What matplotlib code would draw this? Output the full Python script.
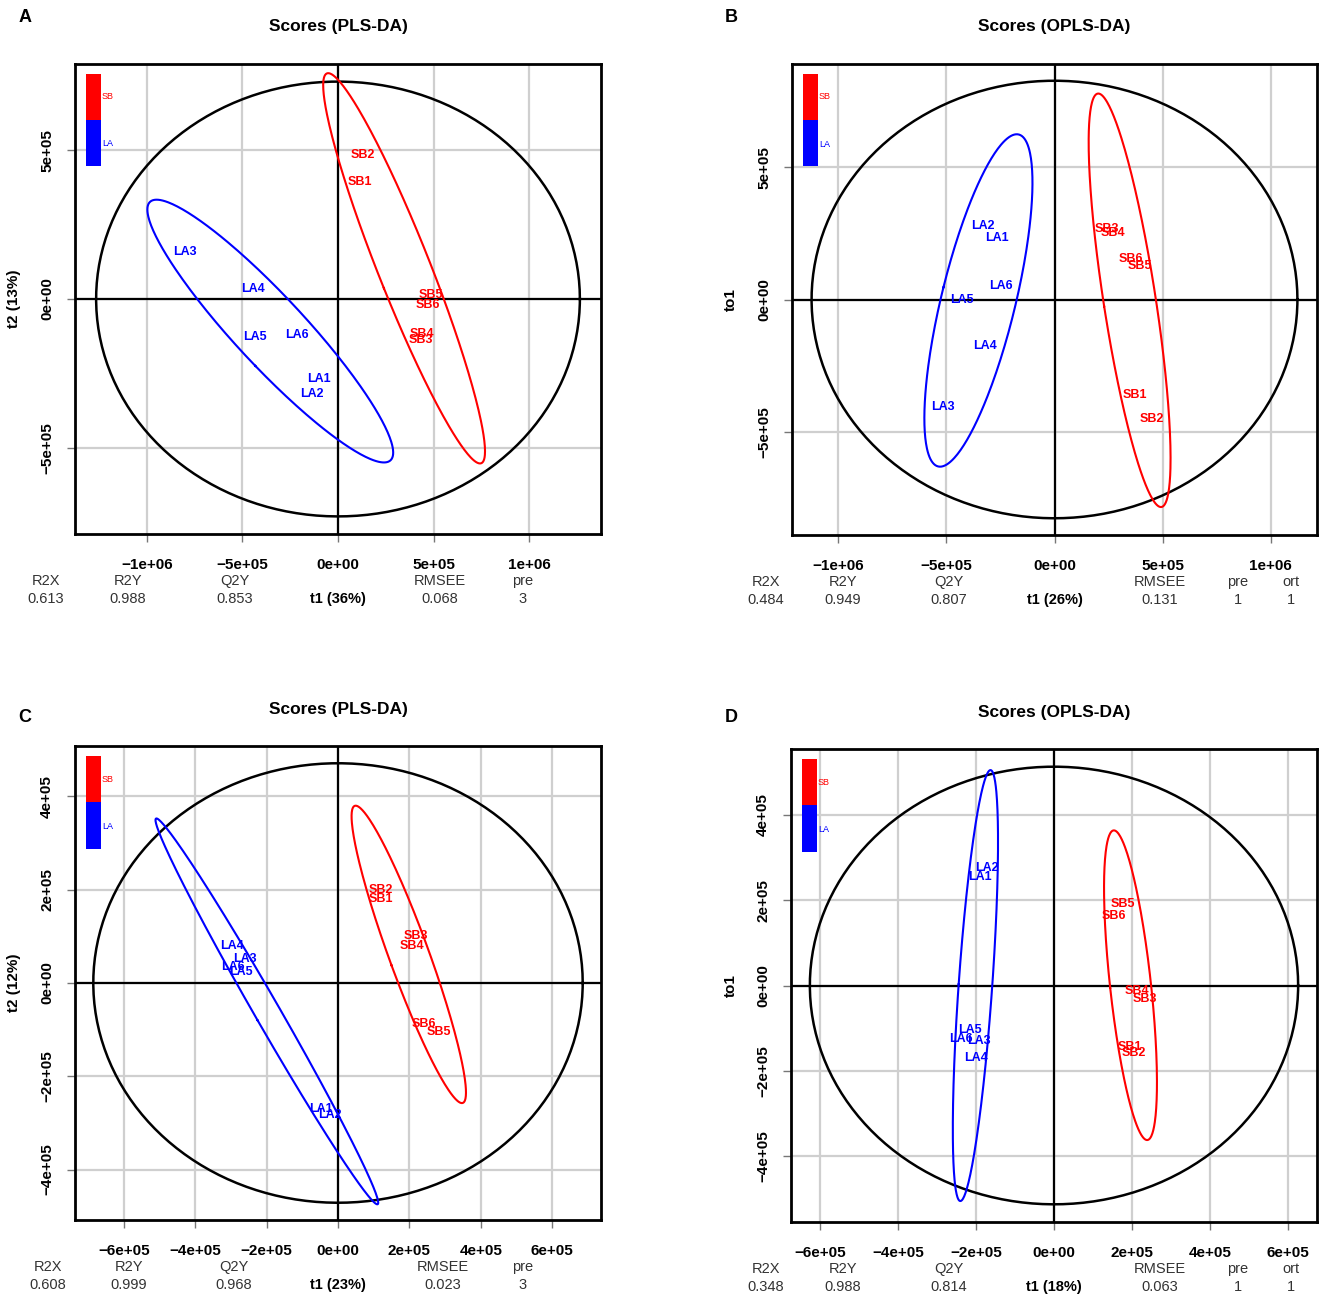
import numpy as np
import matplotlib
matplotlib.use("Agg")
import matplotlib.pyplot as plt
from matplotlib.patches import Rectangle

plt.rcParams['font.family'] = ['Liberation Sans', 'DejaVu Sans']

W, H = 1325, 1300

# ---------------- data ----------------
sample_labels = ["SB1", "SB2", "SB3", "SB4", "SB5", "SB6",
                 "LA1", "LA2", "LA3", "LA4", "LA5", "LA6"]
sample_groups = ["SB"] * 6 + ["LA"] * 6
group_colors = {"SB": "red", "LA": "blue"}

# Panel A: PLS-DA scores
a_t1 = [117e3, 131e3, 432e3, 441e3, 486e3, 468e3,
        -99e3, -135e3, -800e3, -444e3, -432e3, -216e3]
a_t2 = [393e3, 485e3, -139e3, -116e3, 15e3, -19e3,
        -268e3, -321e3, 158e3, 35e3, -129e3, -122e3]
# Panel B: OPLS-DA scores
b_t1 = [371e3, 450e3, 243e3, 272e3, 395e3, 355e3,
        -265e3, -332e3, -516e3, -324e3, -428e3, -248e3]
b_to1 = [-362e3, -453e3, 267e3, 250e3, 127e3, 153e3,
         231e3, 279e3, -406e3, -175e3, -3e3, 52e3]
# Panel C: PLS-DA scores
c_t1 = [121e3, 121e3, 217e3, 206e3, 283e3, 242e3,
        -48e3, -24e3, -261e3, -297e3, -271e3, -295e3]
c_t2 = [181e3, 199e3, 100e3, 80e3, -105e3, -87e3,
        -271e3, -284e3, 52e3, 80e3, 24e3, 34e3]
# Panel D: OPLS-DA scores
d_t1 = [194e3, 206e3, 233e3, 213e3, 178e3, 154e3,
        -189e3, -172e3, -192e3, -201e3, -216e3, -240e3]
d_to1 = [-145e3, -159e3, -31e3, -14e3, 191e3, 162e3,
         255e3, 275e3, -131e3, -170e3, -104e3, -126e3]

titles = ["Scores (PLS-DA)", "Scores (OPLS-DA)", "Scores (PLS-DA)", "Scores (OPLS-DA)"]
panel_letters = ["A", "B", "C", "D"]
x_labels = ["t1 (36%)", "t1 (26%)", "t1 (23%)", "t1 (18%)"]
y_labels = ["t2 (13%)", "to1", "t2 (12%)", "to1"]

metric_names_pls = ["R2X", "R2Y", "Q2Y", "RMSEE", "pre"]
metric_names_opls = ["R2X", "R2Y", "Q2Y", "RMSEE", "pre", "ort"]
a_metrics = ["0.613", "0.988", "0.853", "0.068", "3"]
b_metrics = ["0.484", "0.949", "0.807", "0.131", "1", "1"]
c_metrics = ["0.608", "0.999", "0.968", "0.023", "3"]
d_metrics = ["0.348", "0.988", "0.814", "0.063", "1", "1"]

x_ticks_big = [-1e6, -5e5, 0, 5e5, 1e6]
y_ticks_big = [-5e5, 0, 5e5]
ticks_small = [-6e5, -4e5, -2e5, 0, 2e5, 4e5, 6e5]
y_ticks_small = [-4e5, -2e5, 0, 2e5, 4e5]

# ---------------- layout (pixels) ----------------
panels = [
    dict(x=a_t1, y=a_t2, box=(75, 64, 601, 534), xlim=1.376e6, ylim=7.9e5,
         xt=x_ticks_big, yt=y_ticks_big, metrics=a_metrics, names=metric_names_pls,
         mx=[46, 128, 235, 440, 523], letter_xy=(25, 18), title_y=27, ylab_x=14),
    dict(x=b_t1, y=b_to1, box=(792, 64, 1317, 535), xlim=1.215e6, ylim=8.9e5,
         xt=x_ticks_big, yt=y_ticks_big, metrics=b_metrics, names=metric_names_opls,
         mx=[766, 843, 949, 1160, 1238, 1291], letter_xy=(731, 18), title_y=27, ylab_x=731),
    dict(x=c_t1, y=c_t2, box=(75, 746, 601, 1220), xlim=7.37e5, ylim=5.08e5,
         xt=ticks_small, yt=y_ticks_small, metrics=c_metrics, names=metric_names_pls,
         mx=[48, 129, 234, 443, 523], letter_xy=(25, 718), title_y=710, ylab_x=14),
    dict(x=d_t1, y=d_to1, box=(791, 749, 1317, 1222), xlim=6.75e5, ylim=5.55e5,
         xt=ticks_small, yt=y_ticks_small, metrics=d_metrics, names=metric_names_opls,
         mx=[766, 843, 949, 1160, 1238, 1291], letter_xy=(731, 718), title_y=712, ylab_x=731),
]


def fmt(v):
    s = "%.0e" % v
    return s.replace("-", "\u2212")


def fx(px):
    return px / W


def fy(py):
    return 1 - py / H


theta = np.linspace(0, 2 * np.pi, 300)

fig = plt.figure(figsize=(W / 100, H / 100), dpi=100)

for i, p in enumerate(panels):
    l, t, r, b = p["box"]
    ax = fig.add_axes([fx(l), fy(b), (r - l) / W, (b - t) / H])
    xs = np.array(p["x"])
    ys = np.array(p["y"])
    ax.set_xlim(-p["xlim"], p["xlim"])
    ax.set_ylim(-p["ylim"], p["ylim"])
    ax.set_xticks(p["xt"])
    ax.set_yticks(p["yt"])
    ax.set_xticklabels([fmt(v) for v in p["xt"]], fontsize=11, fontweight="bold")
    ax.set_yticklabels([fmt(v) for v in p["yt"]], fontsize=11, fontweight="bold",
                       rotation=90, va="center")
    ax.tick_params(axis="x", direction="out", length=6, width=1, color="#777777", pad=11)
    ax.tick_params(axis="y", direction="out", length=6, width=1, color="#777777", pad=9)
    ax.grid(True, color="#cfcfcf", lw=1.6, zorder=0)
    ax.set_axisbelow(True)
    for sp in ax.spines.values():
        sp.set_linewidth(2)
        sp.set_color("black")
        sp.set_zorder(5)
    ax.axhline(0, color="black", lw=1.6, zorder=2)
    ax.axvline(0, color="black", lw=1.6, zorder=2)

    # Hotelling T2 ellipse over all samples
    n = len(xs)
    hot = 2 * (n - 1) * (n ** 2 - 1) / (n ** 2 * (n - 2)) * 4.1028  # qf(0.95, 2, 10)
    rx = np.sqrt(np.var(xs, ddof=1) * hot)
    ry = np.sqrt(np.var(ys, ddof=1) * hot)
    ax.plot(rx * np.cos(theta), ry * np.sin(theta), color="black", lw=1.8, zorder=3)

    # group ellipses (95% normal, chi-square 2 dof)
    chi = np.sqrt(5.991)
    groups_arr = np.array(sample_groups)
    for g in ["SB", "LA"]:
        m = groups_arr == g
        pts = np.vstack([xs[m], ys[m]])
        mean = pts.mean(axis=1)
        cov = np.cov(pts)
        vals, vecs = np.linalg.eigh(cov)
        circ = np.vstack([np.cos(theta), np.sin(theta)])
        ell = vecs @ (np.sqrt(vals)[:, None] * chi * circ) + mean[:, None]
        ax.plot(ell[0], ell[1], color=group_colors[g], lw=1.5, zorder=3)

    for lab, g, xv, yv in zip(sample_labels, sample_groups, xs, ys):
        ax.text(xv, yv, lab, color=group_colors[g], fontsize=9, fontweight="bold",
                ha="center", va="center", zorder=4)

    # colour legend bar
    ax.add_patch(Rectangle((0.021, 0.881), 0.029, 0.098, transform=ax.transAxes,
                           color="red", zorder=6, lw=0))
    ax.add_patch(Rectangle((0.021, 0.783), 0.029, 0.098, transform=ax.transAxes,
                           color="blue", zorder=6, lw=0))
    ax.text(0.051, 0.93, "SB", color="red", fontsize=6.5, transform=ax.transAxes,
            va="center", ha="left", zorder=6)
    ax.text(0.051, 0.83, "LA", color="blue", fontsize=6.5, transform=ax.transAxes,
            va="center", ha="left", zorder=6)

    # titles / labels
    cx = (l + r) / 2
    fig.text(fx(cx), fy(p["title_y"]), titles[i], fontsize=12.5, fontweight="bold",
             ha="center", va="center")
    lx, ly = p["letter_xy"]
    fig.text(fx(lx), fy(ly), panel_letters[i], fontsize=13, fontweight="bold",
             ha="center", va="center")
    fig.text(fx(p["ylab_x"]), fy((t + b) / 2), y_labels[i], fontsize=11,
             fontweight="bold", rotation=90, ha="center", va="center")
    row1 = b + 47
    row2 = b + 65
    fig.text(fx(cx), fy(row2), x_labels[i], fontsize=10.5, fontweight="bold",
             ha="center", va="center")
    for name, val, mxp in zip(p["names"], p["metrics"], p["mx"]):
        fig.text(fx(mxp), fy(row1), name, fontsize=10.5, color="#333333",
                 ha="center", va="center")
        fig.text(fx(mxp), fy(row2), val, fontsize=10.5, color="#333333",
                 ha="center", va="center")

fig.savefig("out.png", dpi=100)
